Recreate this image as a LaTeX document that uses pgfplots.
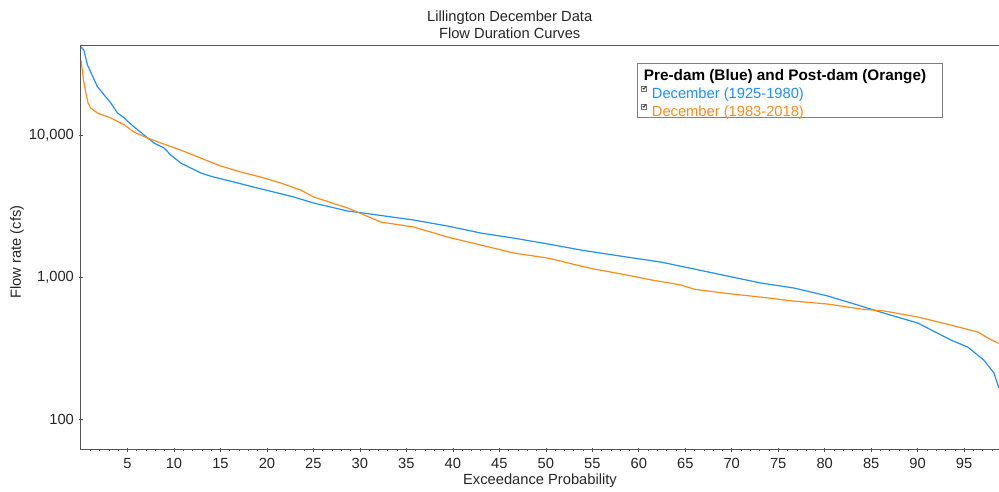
\documentclass[border=0pt]{standalone}
\usepackage{pgfplots}
\pgfplotsset{compat=1.18}
\usepackage{fontspec}
\setmainfont{Liberation Sans}
\definecolor{preblue}{RGB}{30,144,255}
\definecolor{postorange}{RGB}{255,140,26}
\definecolor{axgray}{RGB}{85,85,85}
\begin{document}
\fontsize{14.7bp}{17bp}\selectfont
\begin{tikzpicture}
\begin{axis}[
  at={(0,0)}, anchor=south west,
  scale only axis, width=918bp, height=404bp,
  xmin=0, xmax=98.75,
  ymode=log, ymin=60.5, ymax=42400,
  axis line style={axgray, line width=1bp},
  xtick={5,10,15,20,25,30,35,40,45,50,55,60,65,70,75,80,85,90,95},
  xticklabels={5,10,15,20,25,30,35,40,45,50,55,60,65,70,75,80,85,90,95},
  minor xtick={1,2,...,98},
  ytick={100,1000,10000},
  yticklabels={100,{1,000},{10,000}},
  yminorticks=false,
  tick style={axgray, line width=0.6bp},
  tick align=center,
  major tick length=4bp, minor tick length=3bp,
  xtick pos=bottom, ytick pos=left,
  tick label style={font=\fontsize{14.7bp}{17bp}\selectfont, text=black!85},
  xticklabel style={yshift=-1bp},
  xlabel={Exceedance Probability},
  ylabel={Flow rate (cfs)},
  label style={font=\fontsize{14.7bp}{17bp}\selectfont, text=black!85},
  xlabel style={yshift=5bp},
  ylabel style={yshift=-5bp, xshift=-4bp},
  title={Lillington December Data\\Flow Duration Curves},
  title style={at={(0.467,1)}, anchor=south, align=center, yshift=-4bp,
    font=\fontsize{14.7bp}{17bp}\selectfont, text=black!85},
  legend style={at={(0.6057,0.958)}, anchor=north west, draw=black!50,
    line width=0.8bp, inner xsep=4bp, inner ysep=0pt, row sep=0pt,
    column sep=-4bp,
    nodes={inner sep=1bp, text height=16bp, text depth=0bp, anchor=west},
    font=\fontsize{14.7bp}{17bp}\selectfont},
  legend cell align=left,
  legend image code/.code={
    \draw[black!55, fill=white, line width=0.5bp] (0bp,-0.5bp) rectangle (5bp,4.5bp);
    \draw[black!80, line width=0.9bp] (1bp,2.5bp)--(2.2bp,1.2bp)--(4.2bp,4bp);
  },
]
\addlegendimage{empty legend}
\addlegendentry[text=black, xshift=-8bp, font=\fontsize{15.3bp}{17bp}\selectfont\bfseries]{Pre-dam (Blue) and Post-dam (Orange)\rule{11bp}{0pt}}

\addplot[preblue, line width=1.2bp] coordinates {
(0,41700) (0.30,39700) (0.70,31100) (1.77,21900) (3.21,16800) (3.93,14300)
(4.64,13200) (5.71,11400) (6.79,10000) (7.86,8790) (8.94,8100) (9.66,7230)
(10.73,6350) (11.81,5860) (12.89,5400) (14.28,5060) (16.43,4670) (18.58,4300)
(20.74,3970) (22.89,3660) (25.04,3320) (28.70,2915) (30.42,2820) (35.80,2520)
(39.46,2285) (43.01,2040) (46.56,1880) (50.22,1710) (53.77,1550) (55.16,1500)
(58.82,1380) (62.37,1275) (65.92,1140) (69.58,1015) (73.13,907) (76.68,837)
(80.34,735) (83.89,625) (86.36,557) (90.02,474) (93.57,360) (95.40,321)
(97.12,260) (98.20,211) (98.75,165)
};
\addlegendentry[text=preblue]{December (1925-1980)}

\addplot[postorange, line width=1.2bp] coordinates {
(0,33700) (0.27,24400) (0.52,19800) (0.76,16800) (1.05,15500) (1.77,14300)
(3.21,13200) (4.64,11800) (5.71,10500) (7.15,9530) (8.58,8790) (10.73,7840)
(12.89,6880) (15.04,6050) (17.19,5490) (19.34,5060) (21.49,4590) (23.64,4100)
(25.04,3660) (28.70,3060) (32.25,2440) (35.80,2250) (39.46,1910) (43.01,1680)
(46.56,1475) (50.22,1360) (53.77,1195) (55.16,1140) (58.82,1030) (61.5,950)
(63.0,915) (64.5,880) (66.0,820) (69.58,765) (73.13,722) (76.68,677) (80.34,645)
(83.89,595) (86.36,577) (90.02,523) (93.57,459) (96.47,410) (97.54,372) (98.75,340)
};
\addlegendentry[text=postorange]{December (1983-2018)}
\end{axis}
\pgfresetboundingbox
\path[use as bounding box] (-81bp,-42bp) rectangle (918bp,450bp);
\end{tikzpicture}
\end{document}
